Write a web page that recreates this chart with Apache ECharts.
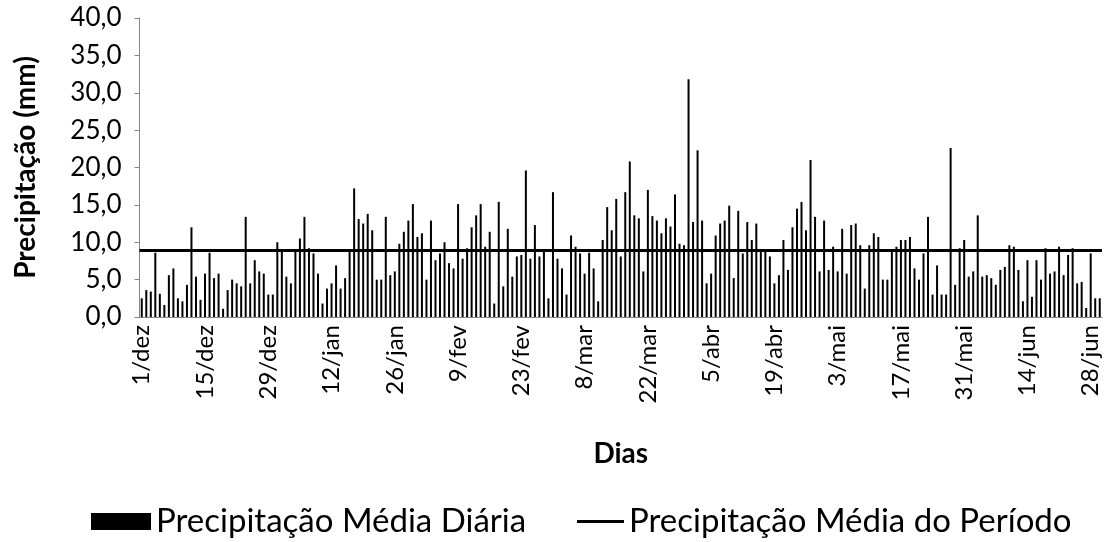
<!DOCTYPE html>
<html>
<head>
<meta charset="utf-8">
<script src="https://cdn.jsdelivr.net/npm/echarts@6/dist/echarts.min.js"></script>
<style>
  html, body { margin: 0; padding: 0; background: #fff; }
  #chart { width: 1113px; height: 542px; }
</style>
</head>
<body>
<div id="chart"></div>
<script>
// meses do período (dez a jun) e número de dias de cada um
const meses = ['dez', 'jan', 'fev', 'mar', 'abr', 'mai', 'jun'];
const diasMes = [31, 31, 29, 31, 30, 31, 30];

// precipitação média diária (mm)
const precipDiaria = [
  2.5, 3.6, 3.4, 8.6, 3.1, 1.6, 5.6, 6.5, 2.5, 2.1, 4.3, 12.0, 5.4, 2.3, 5.8, 8.6, 5.2, 5.8, 1.1, 3.6,
  5.0, 4.5, 4.1, 13.4, 4.5, 7.6, 6.1, 5.8, 3.0, 3.0, 10.0, 8.8, 5.4, 4.5, 8.8, 10.5, 13.4, 9.2, 8.5, 5.8,
  1.8, 3.8, 4.5, 6.9, 3.8, 5.2, 8.9, 17.2, 13.1, 12.5, 13.8, 11.6, 5.0, 5.0, 13.4, 5.6, 6.1, 9.8, 11.4, 12.9,
  15.1, 10.7, 11.2, 5.0, 12.9, 7.6, 8.5, 10.0, 7.2, 6.5, 15.1, 7.8, 9.2, 12.0, 13.6, 15.1, 9.4, 11.4, 1.8, 15.4,
  4.1, 11.8, 5.4, 8.1, 8.3, 19.6, 7.8, 12.3, 8.1, 8.9, 2.5, 16.7, 7.8, 6.5, 3.0, 10.9, 9.4, 8.5, 5.8, 8.6,
  6.5, 2.1, 10.3, 14.7, 11.6, 15.8, 8.1, 16.7, 20.8, 13.6, 13.2, 6.1, 17.0, 13.5, 12.9, 11.2, 13.2, 12.1, 16.4, 9.8,
  9.6, 31.8, 12.7, 22.3, 12.9, 4.5, 5.8, 10.9, 12.5, 12.9, 14.9, 5.2, 14.2, 8.5, 12.7, 10.3, 12.5, 8.9, 8.9, 8.1,
  4.5, 5.6, 10.3, 6.3, 12.0, 14.5, 15.4, 11.6, 21.0, 13.4, 6.1, 12.9, 6.3, 9.4, 6.1, 11.8, 5.8, 12.3, 12.5, 9.6,
  3.8, 9.6, 11.2, 10.7, 5.0, 5.0, 8.9, 9.4, 10.3, 10.3, 10.7, 6.5, 5.0, 8.5, 13.4, 3.0, 6.9, 3.0, 3.0, 22.6,
  4.3, 9.2, 10.3, 5.4, 6.1, 13.6, 5.4, 5.6, 5.2, 4.3, 6.3, 6.7, 9.6, 9.4, 6.3, 2.1, 7.6, 2.7, 7.6, 5.0,
  9.2, 5.8, 6.1, 9.4, 5.6, 8.3, 9.2, 4.5, 4.7, 1.2, 8.5, 2.5, 2.5
];

// precipitação média do período (mm)
const mediaPeriodo = 8.9;

// rótulos dos dias: "1/dez", "2/dez", ...
const dias = [];
meses.forEach((m, i) => {
  for (let d = 1; d <= diasMes[i]; d++) dias.push(d + '/' + m);
});

const fonte = 'Lato, "Open Sans", sans-serif';
const corEixo = '#868686';
const fmt = v => v.toFixed(1).replace('.', ',');

const chart = echarts.init(document.getElementById('chart'));
const option = {
  animation: false,
  grid: { left: 139.5, right: 11, top: 18, bottom: 225, containLabel: false },
  legend: [
    {
      left: 86, top: 500,
      itemWidth: 60, itemHeight: 17, itemGap: 0,
      textStyle: { fontFamily: fonte, fontSize: 33, color: '#000' },
      data: [{ name: 'Precipitação Média Diária', icon: 'rect' }]
    },
    {
      left: 572, top: 500,
      itemWidth: 47, itemHeight: 3, itemGap: 0,
      textStyle: { fontFamily: fonte, fontSize: 33, color: '#000' },
      data: [{ name: 'Precipitação Média do Período', icon: 'rect' }]
    }
  ],
  xAxis: {
    type: 'category',
    data: dias,
    name: 'Dias',
    nameLocation: 'middle',
    nameGap: 123,
    nameTextStyle: { fontFamily: fonte, fontSize: 28, fontWeight: 'bold', color: '#000' },
    axisLine: { lineStyle: { color: corEixo, width: 1 } },
    axisTick: {
      interval: i => i % 14 === 0,
      length: 5,
      lineStyle: { color: corEixo }
    },
    axisLabel: {
      interval: i => i % 14 === 0,
      rotate: 90,
      margin: 8,
      fontFamily: fonte,
      fontSize: 24,
      color: '#000'
    }
  },
  yAxis: {
    type: 'value',
    min: 0,
    max: 40,
    interval: 5,
    name: 'Precipitação (mm)',
    nameLocation: 'middle',
    nameGap: 100,
    nameTextStyle: { fontFamily: fonte, fontSize: 28, fontWeight: 'bold', color: '#000' },
    splitLine: { show: false },
    axisLine: { show: true, lineStyle: { color: corEixo, width: 1 } },
    axisTick: { show: true, length: 5, lineStyle: { color: corEixo } },
    axisLabel: {
      margin: 18,
      fontFamily: fonte,
      fontSize: 26,
      color: '#000',
      formatter: fmt
    }
  },
  series: [
    {
      name: 'Precipitação Média Diária',
      type: 'bar',
      data: precipDiaria,
      barWidth: 2,
      itemStyle: { color: '#000' }
    },
    {
      name: 'Precipitação Média do Período',
      type: 'line',
      data: [],
      itemStyle: { color: '#000' },
      lineStyle: { color: '#000', width: 3 },
      markLine: {
        silent: true,
        symbol: 'none',
        label: { show: false },
        lineStyle: { color: '#000', width: 3, type: 'solid' },
        data: [{ yAxis: mediaPeriodo }]
      }
    }
  ]
};
chart.setOption(option);
</script>
</body>
</html>
